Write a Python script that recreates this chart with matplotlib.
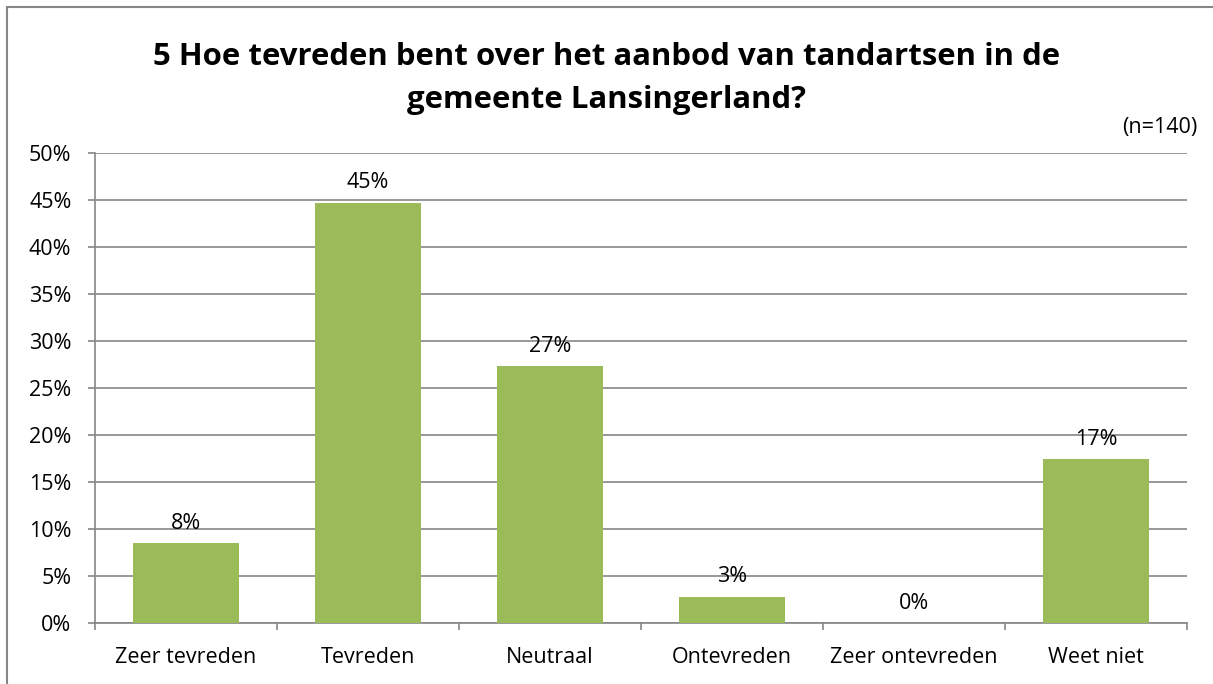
import matplotlib
matplotlib.use("Agg")
import matplotlib.pyplot as plt
from matplotlib.patches import Rectangle
import numpy as np

categories = ["Zeer tevreden", "Tevreden", "Neutraal", "Ontevreden", "Zeer ontevreden", "Weet niet"]
values = [8.5, 44.7, 27.3, 2.8, 0.0, 17.4]
labels = ["8%", "45%", "27%", "3%", "0%", "17%"]
yticks = [0, 5, 10, 15, 20, 25, 30, 35, 40, 45, 50]

plt.rcParams['font.family'] = ['Open Sans', 'DejaVu Sans']
grey = "#868686"
fs = 15.5

fig = plt.figure(figsize=(12.13, 6.84), dpi=100)
ax = fig.add_axes([95/1213, 61/684, 1092/1213, 470/684])

x = np.arange(len(categories))
ax.bar(x, values, width=0.58, color="#9BBB59", zorder=3)
for xi, v, lab in zip(x, values, labels):
    ax.text(xi, v + 1.0, lab, ha="center", va="bottom", fontsize=fs)

ax.set_xlim(-0.5, len(categories) - 0.5)
ax.set_ylim(0, 50)
ax.set_yticks(yticks)
ax.set_yticklabels([f"{t}%" for t in yticks], fontsize=fs)
ax.yaxis.grid(True, color=grey, lw=1.2, zorder=0)

# category labels centred, tick marks on the boundaries
ax.set_xticks(x)
ax.set_xticklabels(categories, fontsize=fs)
ax.tick_params(axis="x", length=0, pad=17)
ax.set_xticks(np.arange(-0.5, len(categories)), minor=True)
ax.tick_params(axis="x", which="minor", length=5, color=grey, width=1.2)
ax.tick_params(axis="y", length=5, color=grey, width=1.2, pad=12)

for s in ["top", "right"]:
    ax.spines[s].set_visible(False)
for s in ["left", "bottom"]:
    ax.spines[s].set_color(grey)
    ax.spines[s].set_linewidth(1.2)

fig.text(0.5, 1 - 57/684, "5 Hoe tevreden bent over het aanbod van tandartsen in de",
         ha="center", va="center", fontsize=22.4, fontweight="bold")
fig.text(0.5, 1 - 100/684, "gemeente Lansingerland?",
         ha="center", va="center", fontsize=22.4, fontweight="bold")
fig.text(1197/1213, 1 - 127/684, "(n=140)", ha="right", va="center", fontsize=fs)

# chart border (runs off the right and bottom edge)
fig.patches.append(Rectangle((7/1213, -0.1), 1.2, 1.1 - 7/684, transform=fig.transFigure,
                             fill=False, edgecolor=grey, lw=1.5))

fig.savefig("out.png", dpi=100)
